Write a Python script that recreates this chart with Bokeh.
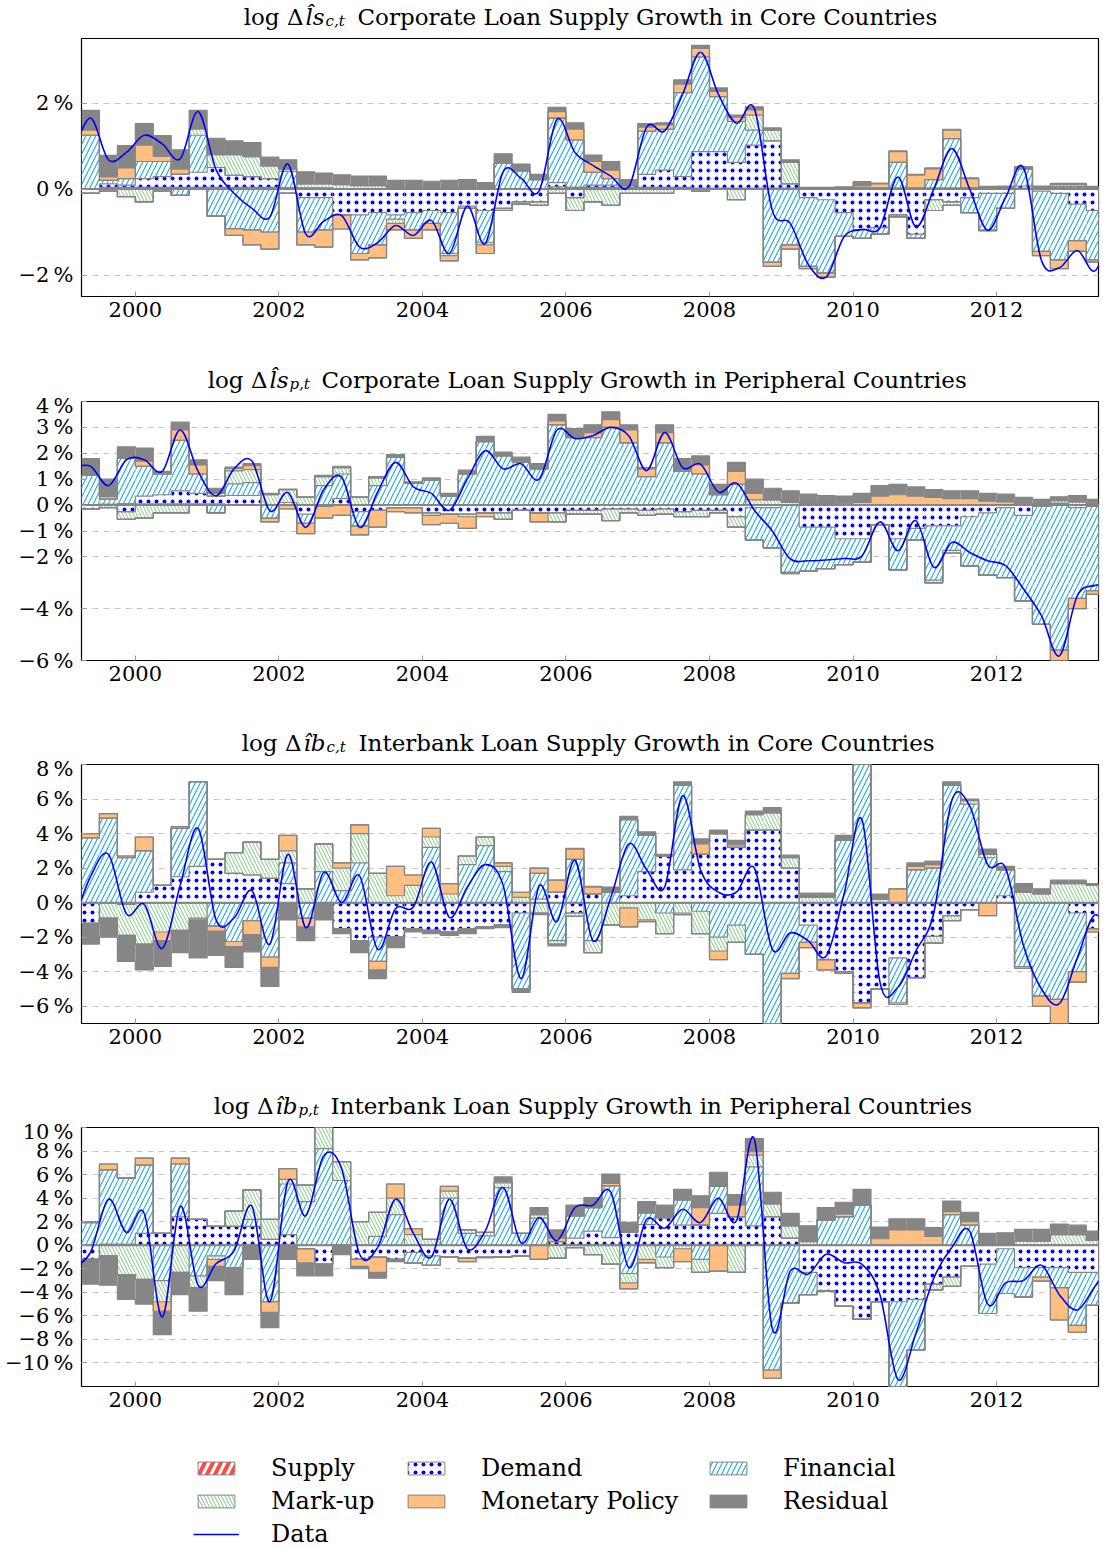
import numpy as np
import pandas as pd
from bokeh.plotting import figure
from bokeh.models import Range1d, FixedTicker, Label, Legend, LegendItem, ColumnDataSource
from bokeh.layouts import column
from bokeh.embed import file_html
from bokeh.resources import INLINE
from bokeh.core.properties import value

# ---------------- data ----------------
BAR_QUARTERS = pd.period_range("1999Q2", "2013Q2", freq="Q")      # 57 bars
LINE_QUARTERS = pd.period_range("1999Q1", "2013Q3", freq="Q")     # 59 points of the data line
YEAR_TICKS = [2000, 2002, 2004, 2006, 2008, 2010, 2012]

# Panel 1: corporate loan supply growth, core countries
LS_CORE_SUPPLY = [0, .04, .04, .04, .04, .04, .04, .04, .04, .04,
                  .04, .03, .02, .02, 0, 0, 0, 0, 0, 0,
                  0, 0, 0, 0, 0, 0, .05, .04, .04, .04,
                  .04, .04, .04, .04, .02, .02, .02, .02, .02, .02,
                  .02, .02, .02, .02, .02, .02, .02, .02, .02, .02,
                  .02, .02, .02, .04, .05, .05, .03]
LS_CORE_DEMAND = [-.1, .08, .05, .2, .25, .3, .35, .46, .28, .25,
                  .2, -.1, -.2, -.2, -.6, -.6, -.55, -.6, -.55, -.5,
                  -.55, -.4, -.5, -.45, -.3, -.3, .1, -.2, .05, .05,
                  .04, .3, .4, .25, .85, .85, .6, 1.0, 1.1, .1,
                  -.2, -.25, -.55, -.95, -.9, -.6, -1.05, -.25, -.3, -.2,
                  -.1, -.1, .05, -.05, -.1, -.35, -.5]
LS_CORE_FINANCIAL = [1.25, .08, .15, .4, .35, -.15, .86, -.63, -.92, -.95,
                     -1.0, .38, -.8, -.75, 0, -.9, -.75, -.1, -.4, -.3,
                     -.95, -.05, -.75, .6, .42, .22, 1.5, 1.1, .3, .15,
                     0, 1.0, .95, 1.95, 2.2, 1.28, .95, .35, -1.7, -1.3,
                     -1.6, -1.7, -.55, -.2, -.15, .6, -.1, .2, 1.15, -.35,
                     -.85, -.35, .4, -1.4, -1.55, -.85, -1.15]
LS_CORE_MARKUP = [0, -.05, -.18, -.3, -.05, 0, .15, .3, .48, .46,
                  .3, .05, .1, .1, .1, .08, .08, -.1, 0, 0,
                  -.05, 0, -.05, 0, -.05, -.08, -.1, -.3, -.3, -.38,
                  -.1, -.1, -.1, 0, -.05, 0, -.25, .35, .25, .5,
                  0, 0, 0, 0, 0, -.05, 0, -.25, -.08, 0,
                  -.02, 0, 0, 0, .05, .05, 0]
LS_CORE_MONETARY = [.12, .08, .25, .38, .12, .12, 0, 0, -.16, -.35,
                    -.4, 0, -.3, -.4, -.33, -.15, -.3, -.15, -.2, -.15,
                    -.12, 0, -.2, -.05, 0, 0, .15, .25, .25, .2,
                    .02, .1, .1, .2, .2, .12, .1, .12, -.1, -.1,
                    -.05, -.1, 0, .05, .1, .25, .3, .25, .2, .22,
                    0, 0, 0, -.1, -.2, -.25, -.05]
LS_CORE_RESIDUAL = [.46, .5, .52, .5, .48, .45, .43, .38, .32, .33,
                    .2, .22, .28, .25, .23, .22, .22, .2, .2, .18,
                    .2, .22, .15, .22, .16, .12, .1, .15, .15, .2,
                    .12, .08, .05, .1, .07, .08, .05, .07, .05, .06,
                    .02, .02, .03, .1, .02, .02, .02, .02, .02, .02,
                    .04, .05, .05, .03, .03, .03, .03]
LS_CORE_DATA = [.8,
                1.65, .68, .85, 1.25, 1.05, .7, 1.8, .45, -.1, -.45,
                -.65, .58, -1.05, -.75, -.62, -1.35, -1.25, -.85, -1.08, -.73,
                -1.5, -.4, -1.27, .4, .25, -.05, 1.62, .85, .55, .3,
                .05, 1.44, 1.35, 2.2, 3.18, 2.2, 1.53, 1.87, -.5, -.8,
                -1.75, -2.05, -1.11, -.94, -.9, .28, -.88, 0, .94, 0,
                -.96, -.2, .5, -1.66, -1.83, -1.43, -1.9,
                -.8]

# Panel 2: corporate loan supply growth, peripheral countries
LS_PERI_SUPPLY = [0, .03, .05, .05, .05, .05, .05, .05, .02, .02,
                  0, 0, 0, 0, 0, 0, 0, 0, 0, 0,
                  0, 0, 0, 0, 0, 0, 0, 0, 0, 0,
                  0, 0, 0, 0, 0, 0, 0, 0, 0, 0,
                  .02, .02, 0, 0, 0, 0, 0, 0, 0, 0,
                  0, .02, 0, .02, .02, .02, .02]
LS_PERI_DEMAND = [-.15, 0, -.25, .3, .35, .5, .4, .3, .35, .35,
                  0, .1, -.35, -.05, .25, -.25, -.2, -.1, -.1, -.3,
                  -.35, -.35, -.3, -.3, -.2, -.3, -.3, -.2, -.2, -.15,
                  -.15, -.2, -.15, -.25, -.2, -.2, -.45, -.1, -.1, 0,
                  -.85, -.85, -1.3, -1.3, -.75, -1.3, -.9, -.8, -.8, -.45,
                  -.3, -.1, -.4, -.05, .05, -.1, -.05]
LS_PERI_FINANCIAL = [1.15, .2, 1.75, 1.15, .8, 1.95, .75, -.3, .45, .5,
                     -.5, 0, -.35, .75, .95, -.55, .75, 1.85, .85, .95,
                     .35, 1.2, 2.45, 1.9, 1.65, 1.4, 3.1, 2.6, 2.6, 3.0,
                     2.4, 1.1, 2.4, 1.3, 1.2, .4, .8, -1.25, -1.55, -2.6,
                     -1.7, -1.6, -1.0, -.9, 0, -1.2, -.45, -2.1, -.95, -1.9,
                     -2.4, -2.7, -3.3, -4.55, -5.6, -3.5, -3.25]
LS_PERI_MARKUP = [0, -.1, -.3, -.5, -.3, -.3, 0, .1, .5, .5,
                  .4, .5, .3, .35, .25, .3, .3, 0, 0, -.1,
                  0, -.1, 0, -.25, 0, 0, -.35, -.15, -.15, -.45,
                  -.15, -.2, -.2, -.2, -.25, -.1, -.4, .2, .2, .1,
                  0, 0, 0, 0, 0, 0, 0, -.1, -.1, 0,
                  0, 0, .05, 0, .1, .1, 0]
LS_PERI_MONETARY = [0, .1, 0, .2, 0, .4, .35, 0, .1, .15,
                    -.15, -.15, -.4, -.45, -.4, -.35, -.65, -.15, -.2, -.35,
                    -.35, -.45, -.15, 0, .05, -.35, .15, .05, .2, .3,
                    .5, .3, .4, .05, .35, 0, .5, .25, 0, -.05,
                    .05, .05, .05, .1, .35, .4, .35, .3, .25, .25,
                    .15, .1, 0, 0, -.4, -.4, -.15]
LS_PERI_RESIDUAL = [.65, .67, .45, .5, .1, .3, .2, .2, .05, .08,
                    .05, .02, .02, .05, .05, .02, .05, .1, .05, .1,
                    .1, .15, .2, .15, .15, .2, .25, .3, .3, .3,
                    .2, .05, .3, .45, .35, .4, .35, .55, .45, .45,
                    .35, .3, .3, .35, .4, .4, .35, .3, .3, .3,
                    .3, .3, .25, .2, .15, .25, .2]
LS_PERI_DATA = [1.45,
                1.5, .75, 1.75, 1.75, 1.3, 2.9, 1.3, .36, 1.4, 1.7,
                -.22, .49, -.86, .6, 1.07, -.86, .5, 1.65, .7, .45,
                -.2, 1.0, 2.1, 1.4, 1.6, 1.0, 2.9, 2.57, 2.68, 3.0,
                2.68, 1.33, 2.8, 1.45, 1.58, .5, .85, -.2, -1.0, -2.08,
                -2.15, -2.12, -2.06, -1.96, -.65, -1.76, -.6, -2.4, -1.44, -1.83,
                -2.15, -2.34, -3.24, -4.27, -5.82, -3.5, -3.1,
                -3.1]

# Panel 3: interbank loan supply growth, core countries
IB_CORE_SUPPLY = [0, 0, 0, 0, 0, 0, 0, -.05, -.05, -.05,
                  -.05, 0, 0, 0, 0, 0, 0, 0, 0, 0,
                  0, 0, 0, 0, 0, 0, 0, 0, 0, 0,
                  0, 0, 0, 0, 0, 0, 0, 0, 0, 0,
                  0, 0, 0, 0, 0, 0, -.05, -.05, -.05, 0,
                  0, 0, 0, 0, 0, 0, 0]
IB_CORE_DEMAND = [-1.2, 0, -.1, .6, 1.0, 1.5, 2.1, 2.5, 1.7, 1.6,
                  1.4, 1.1, 0, 0, -1.5, -2.2, -2.0, -2.0, -1.5, -1.6,
                  -1.7, -1.5, -1.4, -1.3, -.6, .2, .6, -.6, .5, 0,
                  .4, 1.8, 2.7, 1.9, 2.8, 4.0, 3.2, 4.2, 4.2, 2.0,
                  -1.3, -3.3, -4.0, -5.8, -5.0, -3.2, -4.3, -1.9, -.7, -.4,
                  0, .4, 0, 0, 0, -.6, -1.5]
IB_CORE_FINANCIAL = [3.75, 4.9, 2.6, 2.4, 0, 2.8, 4.9, -1.3, -2.2, -1.0,
                     -3.1, 1.2, -.9, 1.8, .7, 2.3, -1.4, 0, 0, 3.2,
                     0, 2.2, 3.3, 1.8, -4.4, 1.5, -2.2, 2.5, -2.2, .6,
                     4.4, 2.1, -.6, 4.9, -.5, -2.0, -1.3, -3.0, -7.5, -4.1,
                     -1.0, 0, 3.6, 10.9, 0, -2.6, 1.9, 2.0, 6.8, 5.7,
                     2.6, 1.5, -3.7, -5.4, -5.6, -3.4, 0]
IB_CORE_MARKUP = [0, -.9, -1.8, -2.4, -1.7, -1.6, -.9, 0, 1.2, 1.9,
                  1.1, .7, .8, 1.6, 1.3, 1.7, 1.7, .4, 1.0, .6,
                  .5, .5, .5, .3, .3, -.6, -.2, -.2, -.7, -1.3,
                  -.3, -1.0, -1.2, -.6, -1.3, -.8, -1.0, .9, 1.0, .6,
                  .3, .3, 0, 0, .2, -.1, 0, -.4, -.3, .2,
                  .2, 0, .6, .5, 1.1, 1.1, 1.0]
IB_CORE_MONETARY = [.25, .25, .1, .8, -.5, .1, -.1, -.3, -.3, -.8,
                    -.6, .9, -.5, 0, .3, .5, -.5, 1.7, .6, .5,
                    .6, 0, 0, .2, .3, .3, .7, .6, .4, 0,
                    -1.1, -.1, 0, -.1, .6, -.5, .15, 0, 0, -.3,
                    -.3, -.6, -.1, -.3, 0, .8, .2, .2, 0, 0,
                    -.75, 0, -.1, -.6, -1.8, -.6, -.2]
IB_CORE_RESIDUAL = [-1.2, -1.1, -1.5, -1.5, -1.5, -1.3, -2.2, -1.4, -1.2, -1.0,
                    -1.1, -1.0, -.8, -1.0, -.3, -.7, -.5, -.6, -.2, -.2,
                    -.2, -.3, -.1, -.15, -.2, -.1, -.1, .05, .05, .3,
                    .2, .2, .1, .2, .3, .2, .25, .2, .3, .15,
                    .25, .25, .3, 0, .3, 0, .2, .2, .2, .1,
                    .3, .2, .5, .3, .2, .2, .1]
IB_CORE_DATA = [-1.3,
                1.5, 2.8, -.65, -.1, -2.65, 1.0, 4.3, -1.0, -.9, .7,
                -2.4, 2.8, -1.45, 1.75, 0, 1.55, -2.7, -.35, -.25, 2.35,
                -.85, .9, 2.2, 1.0, -4.4, .95, -1.1, 2.45, -2.2, .3,
                3.4, 1.9, .9, 6.2, 1.9, .6, .6, 2.0, -2.7, -1.75,
                -2.2, -3.1, .5, 4.8, -4.6, -4.9, -2.8, -.6, 5.9, 5.6,
                2.2, 2.0, -2.5, -5.0, -5.85, -3.2, -.7,
                -2.5]

# Panel 4: interbank loan supply growth, peripheral countries
IB_PERI_SUPPLY = [0, 0, 0, 0, 0, 0, 0, 0, 0, 0,
                  0, 0, 0, 0, 0, 0, 0, 0, 0, 0,
                  0, 0, 0, 0, 0, 0, 0, 0, 0, 0,
                  0, 0, 0, 0, 0, 0, 0, 0, 0, 0,
                  0, 0, 0, 0, 0, 0, 0, 0, 0, 0,
                  0, 0, 0, 0, 0, 0, 0]
IB_PERI_DEMAND = [-1.2, .1, .1, 1.0, 1.0, 2.4, 2.2, 1.6, 1.6, 1.6,
                  .5, .9, -.3, -1.6, 0, -1.2, -1.0, -1.2, -.6, -.9,
                  -1.0, -1.1, -1.0, -1.0, -.9, 0, .3, .6, 1.2, .65,
                  1.1, 1.75, 2.35, 1.7, 1.7, 2.7, 2.4, 1.65, 2.4, .6,
                  -2.3, -3.9, -5.2, -6.3, -4.8, -4.8, -4.6, -3.3, -2.7, -1.8,
                  -1.6, -.3, -1.9, -1.9, -1.9, -2.3, -2.3]
IB_PERI_FINANCIAL = [1.9, 6.3, 5.6, 5.8, -3.0, 4.5, -2.6, -.9, -1.9, .6,
                     -4.8, 4.3, 3.7, 8.2, 5.5, 0, .75, 2.6, -.9, -.8,
                     4.0, 1.0, .8, 4.9, 1.0, 2.3, 0, 1.9, 2.0, 4.4,
                     -2.4, 1.0, -1.0, 2.15, -1.2, 2.3, 0, 5.0, -10.6, -4.9,
                     -1.9, 2.1, 2.4, 3.4, 0, -9.0, -4.3, 0, 2.6, 1.7,
                     -4.2, -3.8, -2.5, -.8, -1.7, -4.5, -2.8]
IB_PERI_MARKUP = [.1, -.9, -2.5, -2.9, -1.8, -2.3, -1.0, -.3, 1.3, 2.5,
                  1.7, .4, 1.4, 1.8, 1.6, 2.0, 2.05, 1.4, .9, .5,
                  .6, .3, .3, .4, 0, .3, -1.1, -.2, -.8, -1.6,
                  -.8, -1.2, -.9, -.3, -1.1, 0, -2.3, 1.0, 1.1, 1.05,
                  .3, .1, 0, 0, 0, 0, 0, -.5, -.8, 0,
                  0, 0, .35, .35, .9, .9, .4]
IB_PERI_MONETARY = [0, .5, 0, .6, -.8, .5, 0, -.6, 0, 0,
                    -.9, .9, -1.2, 0, 0, -.6, -1.3, 1.2, .5, 0,
                    .4, -.3, -.05, .1, 0, -1.2, .3, 0, 0, .2,
                    -.5, -.3, 0, -1.1, 1.5, -2.2, 1.0, .3, -.7, 0,
                    0, 0, .25, 0, .55, 1.3, 1.3, .75, .25, .3,
                    0, .1, 0, -.35, -2.75, -.6, 0]
IB_PERI_RESIDUAL = [-2.1, -2.5, -2.1, -2.1, -2.0, -1.9, -2.0, -1.2, -2.3, -1.2,
                    -1.3, -1.2, -1.1, -1.0, -.8, -.2, -.5, -.2, 0, 0,
                    0, 0, 0, .4, 0, .6, .7, .9, .85, .8,
                    .85, .95, 1.05, .9, 1.0, 1.2, .9, 1.1, 1.0, 1.05,
                    1.35, 1.0, 1.0, 1.35, 1.0, .95, .95, .75, .9, .8,
                    1.0, .95, 1.0, 1.0, .9, .8, .8]
IB_PERI_DATA = [-2.0,
                -.6, 3.9, 1.08, 2.7, -6.1, 3.3, -3.4, -1.56, -.5, 3.3,
                -4.8, 5.4, 2.5, 7.6, 6.5, -.77, -.2, 3.9, 1.0, -1.0,
                3.9, -.3, 1.2, 4.9, .2, 2.35, .4, 3.2, 3.4, 4.5,
                -1.9, 2.2, 1.45, 3.06, 1.93, 4.0, 2.07, 9.0, -7.1, -2.2,
                -2.47, -.77, -1.48, -1.62, -4.2, -11.4, -7.5, -2.8, -.2, 1.2,
                -5.0, -3.2, -3.0, -1.7, -4.2, -5.5, -3.46,
                -1.5]

COMPONENTS = ["Supply", "Demand", "Financial", "Mark-up", "Monetary Policy", "Residual"]

# ---------------- styles ----------------
FONT = "DejaVu Serif"
OUTLINE = "#858585"
PAGE_W = 1103
FRAME_LEFT = 81
FRAME_RIGHT_GAP = 5
TITLE_H = 30
BORDER_TOP = 8
STYLE = {
    "Supply": dict(fill_color="white", hatch_pattern="/", hatch_color="#ff4a4a", hatch_weight=4.0, hatch_scale=16),
    "Demand": dict(fill_color="white", hatch_pattern=".", hatch_color="#0000ff", hatch_weight=1.0, hatch_scale=8),
    "Financial": dict(fill_color="white", hatch_pattern="/", hatch_color="#1aa7e6", hatch_weight=1.1, hatch_scale=10),
    "Mark-up": dict(fill_color="white", hatch_pattern="\\", hatch_color="#5dbb5d", hatch_weight=0.8, hatch_scale=7),
    "Monetary Policy": dict(fill_color="#ffbf80"),
    "Residual": dict(fill_color="#868686"),
}


def dec_year(periods):
    return np.asarray(periods.year + (periods.quarter - 1) / 4.0, dtype=float)


def pct_label(t):
    return ("\u2212" if t < 0 else "") + f"{abs(t)}\u2009%"


def blank_fig(height):
    f = figure(width=PAGE_W, height=height, x_range=Range1d(0, 1), y_range=Range1d(0, 1),
               output_backend="svg", toolbar_location=None, title=None,
               x_axis_location=None, y_axis_location=None,
               min_border_left=FRAME_LEFT, min_border_right=FRAME_RIGHT_GAP,
               min_border_top=0, min_border_bottom=0)
    f.grid.visible = False
    f.outline_line_color = None
    f.background_fill_color = "white"
    f.border_fill_color = "white"
    return f


def make_title(parts, d_left):
    t = blank_fig(TITLE_H)
    a, b, c, d = parts
    wb = 19 if "s" in b else 22
    c_left = d_left - 32
    b_left = c_left - 1 - wb
    common = dict(x_units="screen", y_units="screen", text_baseline="bottom",
                  text_font=FONT, text_color="black")
    t.add_layout(Label(x=b_left - 2, y=1, text=a, text_align="right", text_font_size="23px", **common))
    t.add_layout(Label(x=b_left, y=1, text=b, text_align="left", text_font_size="23px",
                       text_font_style="italic", **common))
    t.add_layout(Label(x=c_left, y=0.5, text=c, text_align="left", text_font_size="15px",
                       text_font_style="italic", **common))
    t.add_layout(Label(x=d_left, y=1, text=d, text_align="left", text_font_size="23px", **common))
    return t


def make_panel(comps, data, yr, yticks, frame_h, border_bottom):
    p = figure(width=PAGE_W, height=BORDER_TOP + frame_h + border_bottom,
               x_range=Range1d(1999.25, 2013.42), y_range=Range1d(*yr),
               output_backend="svg", toolbar_location=None, title=None,
               min_border_left=FRAME_LEFT, min_border_right=FRAME_RIGHT_GAP, min_border_top=BORDER_TOP,
               min_border_bottom=border_bottom)
    p.background_fill_color = "white"
    p.border_fill_color = "white"
    p.outline_line_color = "black"
    p.outline_line_width = 1.2
    p.outline_line_alpha = 1.0

    left = dec_year(BAR_QUARTERS)
    right = left + 0.25
    n = len(left)
    pos = np.zeros(n)
    neg = np.zeros(n)
    levels = [np.zeros(n)]
    for name in COMPONENTS:
        v = np.asarray(comps[name], dtype=float)
        assert len(v) == n, (name, len(v))
        vp = np.clip(v, 0, None)
        vn = np.clip(v, None, 0)
        src = ColumnDataSource(dict(left=np.r_[left, left], right=np.r_[right, right],
                                    bottom=np.r_[pos, neg + vn], top=np.r_[pos + vp, neg]))
        p.quad(left="left", right="right", bottom="bottom", top="top", source=src,
               line_color=None, **STYLE[name])
        pos = pos + vp
        neg = neg + vn
        levels += [pos.copy(), neg.copy()]
    edges = np.r_[left, right[-1]]
    for i, lv in enumerate(levels):
        p.step(x=edges, y=np.r_[lv, lv[-1]], mode="after", line_color=OUTLINE,
               line_width=2.0 if i == 0 else 1.2)

    # data line, drawn smooth (cubic Bezier through the quarterly points)
    lx = dec_year(LINE_QUARTERS) + 0.125
    ly = np.asarray(data, dtype=float)
    assert len(ly) == len(lx)
    xp = np.r_[lx[0], lx, lx[-1]]
    yp = np.r_[ly[0], ly, ly[-1]]
    k = 1.0 / 6.0
    x0, y0 = xp[1:-2], yp[1:-2]
    x1, y1 = xp[2:-1], yp[2:-1]
    cx0 = x0 + (xp[2:-1] - xp[:-3]) * k
    cy0 = y0 + (yp[2:-1] - yp[:-3]) * k
    cx1 = x1 - (xp[3:] - xp[1:-2]) * k
    cy1 = y1 - (yp[3:] - yp[1:-2]) * k
    p.bezier(x0=x0, y0=y0, x1=x1, y1=y1, cx0=cx0, cy0=cy0, cx1=cx1, cy1=cy1,
             line_color="#0000ff", line_width=1.6)

    # axes
    p.xaxis.ticker = FixedTicker(ticks=YEAR_TICKS)
    p.xaxis.major_label_overrides = {t: str(t) for t in YEAR_TICKS}
    p.yaxis.ticker = FixedTicker(ticks=yticks)
    p.yaxis.major_label_overrides = {t: pct_label(t) for t in yticks}
    for ax in (p.xaxis[0], p.yaxis[0]):
        ax.axis_line_color = None
        ax.major_tick_in = 5
        ax.major_tick_out = 0
        ax.minor_tick_line_color = None
        ax.major_tick_line_color = "#9a9a9a"
        ax.major_label_text_font = FONT
        ax.major_label_text_font_size = "21px"
        ax.major_label_text_color = "black"
    p.xaxis.major_label_standoff = 5
    p.yaxis.major_label_standoff = 8

    p.xgrid.visible = False
    p.ygrid[0].ticker = FixedTicker(ticks=yticks)
    p.ygrid.grid_line_color = "#c6c6c6"
    p.ygrid.grid_line_dash = "6 5"
    p.ygrid.grid_line_width = 1
    return p


def comps_of(s, dmd, f, m, mp, r):
    return {"Supply": s, "Demand": dmd, "Financial": f, "Mark-up": m, "Monetary Policy": mp, "Residual": r}


t1 = make_title(("log \u0394", "l\u0302s", "c,t", "Corporate Loan Supply Growth in Core Countries"), 276)
p1 = make_panel(comps_of(LS_CORE_SUPPLY, LS_CORE_DEMAND, LS_CORE_FINANCIAL, LS_CORE_MARKUP,
                         LS_CORE_MONETARY, LS_CORE_RESIDUAL), LS_CORE_DATA,
                (-2.5, 3.5), [-2, 0, 2], 258, 67)
t2 = make_title(("log \u0394", "l\u0302s", "p,t", "Corporate Loan Supply Growth in Peripheral Countries"), 240)
p2 = make_panel(comps_of(LS_PERI_SUPPLY, LS_PERI_DEMAND, LS_PERI_FINANCIAL, LS_PERI_MARKUP,
                         LS_PERI_MONETARY, LS_PERI_RESIDUAL), LS_PERI_DATA,
                (-6, 4), [-6, -4, -2, -1, 0, 1, 2, 3, 4], 259, 66)
t3 = make_title(("log \u0394", "\u00eeb", "c,t", "Interbank Loan Supply Growth in Core Countries"), 277)
p3 = make_panel(comps_of(IB_CORE_SUPPLY, IB_CORE_DEMAND, IB_CORE_FINANCIAL, IB_CORE_MARKUP,
                         IB_CORE_MONETARY, IB_CORE_RESIDUAL), IB_CORE_DATA,
                (-7, 8), [-6, -4, -2, 0, 2, 4, 6, 8], 259, 66)
t4 = make_title(("log \u0394", "\u00eeb", "p,t", "Interbank Loan Supply Growth in Peripheral Countries"), 249)
p4 = make_panel(comps_of(IB_PERI_SUPPLY, IB_PERI_DEMAND, IB_PERI_FINANCIAL, IB_PERI_MARKUP,
                         IB_PERI_MONETARY, IB_PERI_RESIDUAL), IB_PERI_DATA,
                (-12, 10), [-10, -8, -6, -4, -2, 0, 2, 4, 6, 8, 10], 259, 40)

# ---------------- legend ----------------
leg = blank_fig(122)
rend = {}
for name in COMPONENTS:
    # one off-range quad per entry, only so that the legend can draw its swatch
    rend[name] = leg.quad(left=[-3], right=[-2], top=[-2], bottom=[-3],
                          line_color=OUTLINE, line_width=1, **STYLE[name])
rend["Data"] = leg.line(x=[-3, -2], y=[-3, -3], line_color="#0000ff", line_width=1.6)
LEGEND_COLUMNS = [["Supply", "Mark-up", "Data"], ["Demand", "Monetary Policy"], ["Financial", "Residual"]]
for names, loc in zip(LEGEND_COLUMNS, [(112, 0), (322, 33), (624, 33)]):
    lg = Legend(items=[LegendItem(label=value(nm), renderers=[rend[nm]]) for nm in names],
                location=loc, orientation="vertical", padding=0, margin=0, spacing=5,
                glyph_width=46, glyph_height=16, label_standoff=32, label_height=28,
                label_text_font=FONT, label_text_font_size="24px", label_text_baseline="middle",
                label_text_color="black", border_line_color=None, background_fill_alpha=0)
    leg.add_layout(lg, "center")

layout = column(t1, p1, t2, p2, t3, p3, t4, p4, leg, spacing=0)
open("out.html", "w").write(file_html(layout, INLINE))
